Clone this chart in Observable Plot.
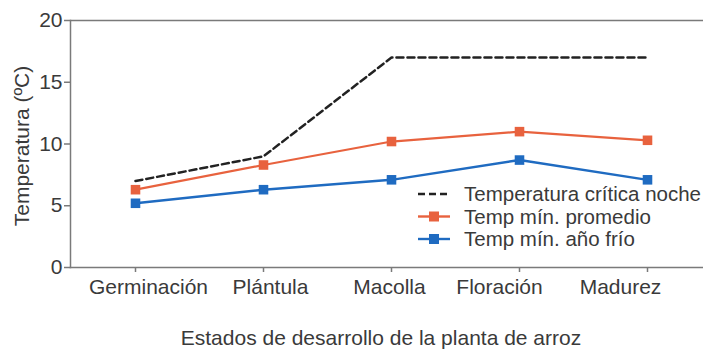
<!DOCTYPE html>
<html>
<head>
<meta charset="utf-8">
<script src="https://cdn.jsdelivr.net/npm/d3@7"></script>
<script src="https://cdn.jsdelivr.net/npm/@observablehq/plot@0.6"></script>
<style>
  html, body { margin: 0; padding: 0; background: #fff; }
  #chart svg { display: block; }
</style>
</head>
<body>
<div id="chart"></div>
<script>
// Development stages of the rice plant
const stages = ["Germinación", "Plántula", "Macolla", "Floración", "Madurez"];

// Night critical temperature and minimum temperatures (ºC)
const criticaNoche = [7, 9, 17, 17, 17];
const minPromedio = [6.3, 8.3, 10.2, 11.0, 10.3];
const minAnoFrio = [5.2, 6.3, 7.1, 8.7, 7.1];

const yTicks = [0, 5, 10, 15, 20];

const seriesNames = ["Temperatura crítica noche", "Temp mín. promedio", "Temp mín. año frío"];
const seriesColors = ["#222222", "#e8623e", "#1f6bc1"];

const rows = (values) => stages.map((s, i) => ({stage: s, value: values[i]}));
const critica = rows(criticaNoche);
const promedio = rows(minPromedio);
const frio = rows(minAnoFrio);

const axisGray = "#7a7a7a";
const textColor = "#3a3a3a";
const font = "'Liberation Sans', Arial, Helvetica, sans-serif";

// Stage labels sit slightly pulled toward the middle of the axis
const labelNudge = [13, 7, -2, -20, -27];

const chart = Plot.plot({
  width: 703,
  height: 353,
  marginTop: 20,
  marginBottom: 86,
  marginLeft: 70,
  marginRight: 0,
  style: {fontFamily: font, fontSize: "21px", color: textColor, background: "#fff"},
  x: {type: "point", domain: stages, range: [70, 711], padding: 0.5},
  y: {domain: [0, 20]},
  marks: [
    Plot.ruleY([20], {stroke: axisGray, strokeWidth: 1.5}),
    Plot.frame({anchor: "left", stroke: axisGray, strokeWidth: 1.5}),
    Plot.frame({anchor: "bottom", stroke: axisGray, strokeWidth: 1.5}),
    Plot.axisY({ticks: yTicks, tickSize: 6, tickPadding: 2, label: null, stroke: axisGray, strokeWidth: 1.5, fill: textColor, fontSize: 21}),
    Plot.axisX({tickSize: 5, tickFormat: () => "", label: null, stroke: axisGray, strokeWidth: 1.5}),
    ...stages.map((s, i) => Plot.text([s], {
      x: (d) => d, text: (d) => d, frameAnchor: "bottom", lineAnchor: "top",
      dy: 12, dx: labelNudge[i], fill: textColor, fontSize: 21
    })),
    Plot.line(critica, {x: "stage", y: "value", stroke: seriesColors[0], strokeWidth: 2.5, strokeDasharray: "7,4"}),
    Plot.line(promedio, {x: "stage", y: "value", stroke: seriesColors[1], strokeWidth: 2.2}),
    Plot.dot(promedio, {x: "stage", y: "value", symbol: "square", r: 5.4, fill: seriesColors[1], stroke: "none"}),
    Plot.line(frio, {x: "stage", y: "value", stroke: seriesColors[2], strokeWidth: 2.4}),
    Plot.dot(frio, {x: "stage", y: "value", symbol: "square", r: 5.4, fill: seriesColors[2], stroke: "none"})
  ]
});

document.getElementById("chart").appendChild(chart);

const svg = d3.select(chart);

// Axis titles
svg.append("text")
  .attr("transform", "translate(22,146) rotate(-90)")
  .attr("text-anchor", "middle")
  .attr("dy", "0.35em")
  .attr("fill", textColor)
  .style("font-family", font)
  .style("font-size", "21px")
  .text("Temperatura (ºC)");

svg.append("text")
  .attr("x", 381)
  .attr("y", 345)
  .attr("text-anchor", "middle")
  .attr("fill", textColor)
  .style("font-family", font)
  .style("font-size", "21px")
  .text("Estados de desarrollo de la planta de arroz");

// Legend inside the plot area
const legend = svg.append("g").attr("transform", "translate(418,194)");
seriesNames.forEach((name, i) => {
  const g = legend.append("g").attr("transform", `translate(0,${i * 22.5})`);
  g.append("line")
    .attr("x1", 0).attr("x2", 32).attr("y1", 0).attr("y2", 0)
    .attr("stroke", seriesColors[i])
    .attr("stroke-width", i === 0 ? 2.5 : 2.4)
    .attr("stroke-dasharray", i === 0 ? "7,4" : null);
  if (i > 0) {
    g.append("rect")
      .attr("x", 11).attr("y", -5).attr("width", 10).attr("height", 10)
      .attr("fill", seriesColors[i]);
  }
  g.append("text")
    .attr("x", 46)
    .attr("y", 0)
    .attr("dy", "0.35em")
    .attr("text-anchor", "start")
    .attr("fill", textColor)
    .style("font-family", font)
    .style("font-size", "20.5px")
    .text(name);
});
</script>
</body>
</html>
